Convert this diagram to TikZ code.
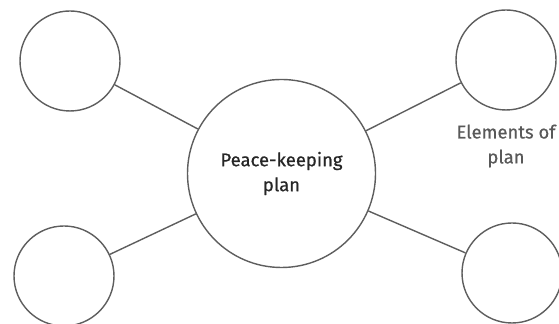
\documentclass[tikz,border=0pt]{standalone}
\usepackage{fontspec}
\setmainfont{Fira Sans}
\usepackage{tikz}
\usetikzlibrary{positioning}
\definecolor{inkgrey}{HTML}{5E5E5E}

\begin{document}
\begin{tikzpicture}[
        x=1cm,
        y=1cm,
        font=\fontsize{10.5}{14.2}\selectfont\addfontfeature{FakeBold=0.7},
        hubcircle/.style={
            circle,
            draw=inkgrey,
            line width=0.8pt,
            minimum size=3.76cm,
            inner sep=0pt,
            align=center,
            text=black!85
        },
        leafcircle/.style={
            circle,
            draw=inkgrey,
            line width=0.8pt,
            minimum size=2cm,
            inner sep=0pt
        },
        spoke/.style={
            draw=inkgrey,
            line width=0.8pt
        }
    ]

        \useasboundingbox (0,0) rectangle (11.18,6.48);

        % Midten
        \node[hubcircle] (plan) at (5.63,3.01)
            {Peace-keeping\\plan};

        % Elementer
        \node[leafcircle] (topleft) at (1.40,5.26) {};
        \node[leafcircle] (bottomleft) at (1.28,0.96) {};
        \node[leafcircle] (topright) at (10.12,5.28) {};
        \node[leafcircle] (bottomright) at (10.24,1.02) {};

        % Forbindelser
        \draw[spoke] (plan) -- (topleft);
        \draw[spoke] (plan) -- (bottomleft);
        \draw[spoke] (plan) -- (topright);
        \draw[spoke] (plan) -- (bottomright);

        % Betegnelse
        \node[
            align=center,
            text=black!65
        ] (elemlabel) at (10.12,3.56)
            {Elements of\\plan};

    \end{tikzpicture}
\end{document}
